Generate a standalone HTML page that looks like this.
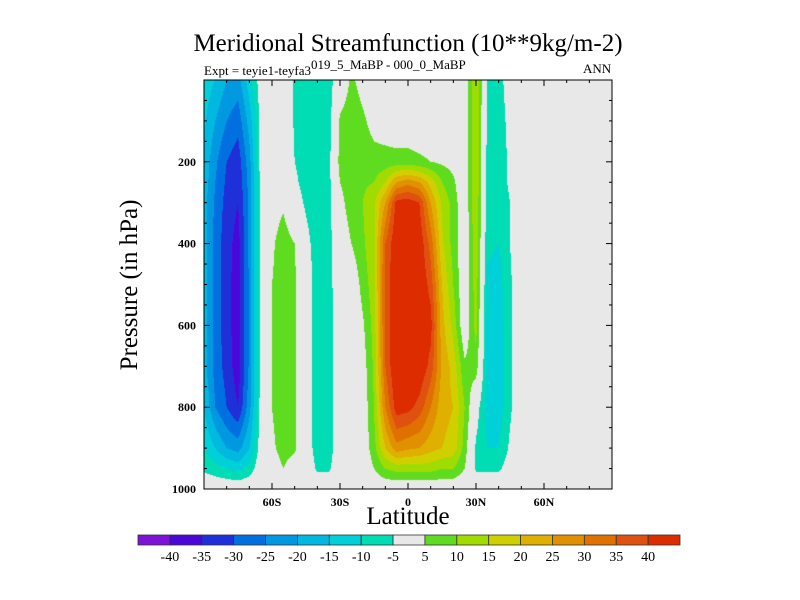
<!DOCTYPE html>
<html><head><meta charset="utf-8"><style>
html,body{margin:0;padding:0;background:#fff;}
#wrap{position:relative;width:800px;height:600px;overflow:hidden;font-family:"Liberation Serif",serif;color:#000;}
.t{position:absolute;white-space:nowrap;}
</style></head><body>
<div id="wrap">
<div class="t" style="left:0;width:816px;text-align:center;top:30px;font-size:25px;">Meridional Streamfunction (10**9kg/m-2)</div>
<div class="t" style="left:204px;top:63px;font-size:13px;">Expt = teyie1-teyfa3<span style="position:relative;top:-6px;">019_5_MaBP - 000_0_MaBP</span></div>
<div class="t" style="left:583px;top:61px;font-size:13px;">ANN</div>
<canvas id="cv" width="408" height="409" style="position:absolute;left:204px;top:80px;"></canvas>
<svg id="sv" width="800" height="600" style="position:absolute;left:0;top:0;"></svg>
<div class="t" style="left:0;width:816px;text-align:center;top:503px;font-size:25px;">Latitude</div>
<div class="t" style="left:130px;top:285px;font-size:25px;transform:translate(-50%,-50%) rotate(-90deg);">Pressure (in hPa)</div>
</div>
<script>
const lats=[-90,-85,-80,-75,-70,-65,-60,-55,-50,-45,-40,-35,-30,-25,-20,-15,-10,-5,0,5,10,15,20,25,30,35,40,45,50,55,60,65,70,75,80,85,90];
const levels=[0,100,200,250,300,400,500,600,700,800,900,950,1000];
const psi=[
[-12,-14,-16,-17,-18,-18,-18,-18,-18,-15,-10,-6,0],
[-15,-20,-24,-25,-26,-27,-27,-27,-27,-25,-15,-8,0],
[-20,-25,-30,-31,-32,-33,-33,-33,-32,-30,-20,-10,0],
[-22,-28,-33,-34,-35,-37,-38,-38,-38,-35,-22,-12,0],
[-12,-18,-22,-23,-24,-24,-24,-24,-24,-22,-15,-8,0],
[-2,-3,-3,-3,-3,-3,-3,-3,-3,-3,-2,-1,0],
[0,0,2,2,2,4,5,5,5,5,4,2,0],
[0,2,3,3,4,8,8,8,8,8,7,5,0],
[-6,-6,-5,-4,-2,5,6,6,6,6,6,2,0],
[-8,-8,-7,-7,-6,-3,-1,-1,-1,-1,-1,0,0],
[-8,-8,-8,-8,-8,-8,-8,-8,-8,-8,-8,-6,0],
[-8,-8,-7,-7,-7,-7,-7,-7,-7,-7,-7,-6,0],
[0,6,7,5,3,0,-1,-2,-2,-2,-2,-1,0],
[6,8,8,8,8,5,0,-1,-1,-1,-1,0,0],
[3,6,8,9,10,9,7,4,2,1,1,0,0],
[0,3,7,10,14,14,13,12,11,10,8,5,0],
[0,2,7,15,25,35,36,36,35,30,20,10,0],
[0,1,7,25,42,45,46,46,46,43,28,12,0],
[0,1,7,28,43,46,46,46,46,42,26,12,0],
[0,1,6,25,40,44,45,45,45,38,25,12,0],
[0,1,5,18,25,33,38,42,38,30,22,12,0],
[0,0,4,10,14,16,20,22,24,22,20,10,0],
[2,2,3,6,8,8,10,13,18,20,18,10,0],
[0,0,0,0,0,0,0,0,6,10,8,5,0],
[15,15,15,15,15,14,13,12,8,-2,-6,-6,0],
[-5,-6,-7,-7,-8,-9,-11,-12,-12,-12,-10,-6,0],
[-7,-8,-8,-8,-9,-10,-12,-13,-13,-13,-10,-6,0],
[-2,-3,-4,-4,-5,-5,-6,-6,-6,-6,-4,-2,0],
[0,0,0,0,0,0,0,0,0,0,0,0,0],[0,0,0,0,0,0,0,0,0,0,0,0,0],[0,0,0,0,0,0,0,0,0,0,0,0,0],
[0,0,0,0,0,0,0,0,0,0,0,0,0],[0,0,0,0,0,0,0,0,0,0,0,0,0],[0,0,0,0,0,0,0,0,0,0,0,0,0],
[0,0,0,0,0,0,0,0,0,0,0,0,0],[0,0,0,0,0,0,0,0,0,0,0,0,0],[0,0,0,0,0,0,0,0,0,0,0,0,0]];
const bounds=[-40,-35,-30,-25,-20,-15,-10,-5,5,10,15,20,25,30,35,40];
const barLabels=["-40","-35","-30","-25","-20","-15","-10","-5","5","10","15","20","25","30","35","40"];
const xTicks=[-60,-30,0,30,60];
const xTickLabels=["60S","30S","0","30N","60N"];
const yTicks=[200,400,600,800,1000];
const colors=["#7e12d8","#4a08d8","#2030d8","#0070e0","#0098e0","#00b8e0","#00d0d8","#00dcb4","#e8e8e8","#60dc20","#a0dc00","#d0d000","#e0b000","#e09000","#e07000","#e05010","#dc2c00"];
const X0=204,X1=612,Y0=80,Y1=489;
const xs=l=>X0+(l+90)/180*(X1-X0);
const ys=p=>Y0+p/1000*(Y1-Y0);
function bin(v){let i=0;while(i<bounds.length&&v>=bounds[i])i++;return i;}
function hex(c){return [parseInt(c.substr(1,2),16),parseInt(c.substr(3,2),16),parseInt(c.substr(5,2),16)];}
const rgb=colors.map(hex);
function sample(lat,p){
  let i=0;while(i<lats.length-2&&lat>lats[i+1])i++;
  let j=0;while(j<levels.length-2&&p>levels[j+1])j++;
  const tx=Math.min(1,Math.max(0,(lat-lats[i])/(lats[i+1]-lats[i])));
  const ty=Math.min(1,Math.max(0,(p-levels[j])/(levels[j+1]-levels[j])));
  const a=psi[i][j],b=psi[i+1][j],c=psi[i][j+1],d=psi[i+1][j+1];
  return (a*(1-tx)+b*tx)*(1-ty)+(c*(1-tx)+d*tx)*ty;
}
const cv=document.getElementById('cv');const ctx=cv.getContext('2d');
const W=cv.width,H=cv.height;const img=ctx.createImageData(W,H);
for(let y=0;y<H;y++){const p=(y+0.5)/H*1000;for(let x=0;x<W;x++){const lat=-90+(x+0.5)/W*180;const c=rgb[bin(sample(lat,p))];const k=(y*W+x)*4;img.data[k]=c[0];img.data[k+1]=c[1];img.data[k+2]=c[2];img.data[k+3]=255;}}
ctx.putImageData(img,0,0);
const sv=document.getElementById('sv');const NS='http://www.w3.org/2000/svg';
function el(t,a){const e=document.createElementNS(NS,t);for(const k in a)e.setAttribute(k,a[k]);sv.appendChild(e);return e;}
const fr=el('rect',{x:X0,y:Y0,width:X1-X0,height:Y1-Y0,fill:'none',stroke:'#000','stroke-width':1});


for(let l=-80;l<=80;l+=10){const maj=l%30===0;const len=maj?6:3;const x=xs(l);
 el('line',{x1:x,x2:x,y1:Y1,y2:Y1-len,stroke:'#000'});el('line',{x1:x,x2:x,y1:Y0,y2:Y0+len,stroke:'#000'});}
for(let p=50;p<1000;p+=50){const maj=p%200===0;const len=maj?6:3;const y=ys(p);
 el('line',{x1:X0,x2:X0+len,y1:y,y2:y,stroke:'#000'});el('line',{x1:X1,x2:X1-len,y1:y,y2:y,stroke:'#000'});}
xTicks.forEach((l,i)=>{const t=el('text',{x:xs(l),y:Y1+17,'text-anchor':'middle','font-size':12,'font-weight':'bold','font-family':'Liberation Serif, serif'});t.textContent=xTickLabels[i];
 
 });
yTicks.forEach(p=>{const t=el('text',{x:X0-8,y:ys(p)+4,'text-anchor':'end','font-size':12,'font-weight':'bold','font-family':'Liberation Serif, serif'});t.textContent=p;
 
 });
const BX0=138,BX1=680,BY=535,BH=10,bw=(BX1-BX0)/colors.length;
colors.forEach((c,i)=>{const r=el('rect',{x:BX0+i*bw,y:BY,width:bw,height:BH,fill:c,stroke:'#333','stroke-width':0.8});
 
 });
barLabels.forEach((s,i)=>{const t=el('text',{x:BX0+(i+1)*bw,y:561,'text-anchor':'middle','font-size':14,'font-family':'Liberation Serif, serif'});t.textContent=s;
 
 });
</script>
</body></html>
